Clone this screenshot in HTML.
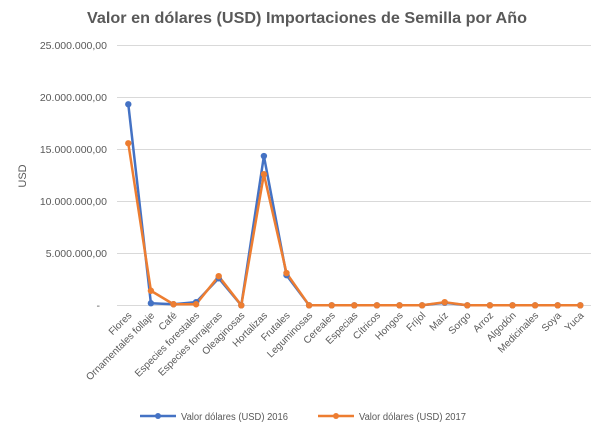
<!DOCTYPE html>
<html><head><meta charset="utf-8"><style>body{margin:0;background:#fff}svg{display:block;font-family:"Liberation Sans",sans-serif}</style></head><body>
<svg width="611" height="429" viewBox="0 0 611 429">
<rect width="611" height="429" fill="#fff"/>
<text x="307" y="23" text-anchor="middle" font-size="16" font-weight="bold" fill="#595959" textLength="440" lengthAdjust="spacingAndGlyphs">Valor en dólares (USD) Importaciones de Semilla por Año</text>
<g stroke="#d9d9d9" stroke-width="1">
<line x1="117" x2="591" y1="45.5" y2="45.5"/><line x1="117" x2="591" y1="97.5" y2="97.5"/><line x1="117" x2="591" y1="149.5" y2="149.5"/><line x1="117" x2="591" y1="201.5" y2="201.5"/><line x1="117" x2="591" y1="253.5" y2="253.5"/><line x1="117" x2="591" y1="305.5" y2="305.5"/>
</g>
<g font-size="10.5" fill="#595959" text-anchor="end">
<text x="107" y="49">25.000.000,00</text><text x="107" y="101">20.000.000,00</text><text x="107" y="153">15.000.000,00</text><text x="107" y="205">10.000.000,00</text><text x="107" y="257">5.000.000,00</text><text x="100" y="309">-</text>
</g>
<text transform="translate(26,176) rotate(-90)" text-anchor="middle" font-size="11" fill="#595959">USD</text>
<g font-size="10" fill="#595959" text-anchor="end" id="lbl"></g>
<polyline fill="none" stroke="#4472c4" stroke-width="2.5" stroke-linejoin="round" id="b"/>
<polyline fill="none" stroke="#ed7d31" stroke-width="2.5" stroke-linejoin="round" id="o"/>
<g id="bm" fill="#4472c4"></g><g id="om" fill="#ed7d31"></g>
<line x1="140" x2="176" y1="416" y2="416" stroke="#4472c4" stroke-width="2.5"/><circle cx="158" cy="416" r="3" fill="#4472c4"/>
<text x="181" y="420" font-size="10" fill="#595959" textLength="107" lengthAdjust="spacingAndGlyphs">Valor dólares (USD) 2016</text>
<line x1="318" x2="354" y1="416" y2="416" stroke="#ed7d31" stroke-width="2.5"/><circle cx="336" cy="416" r="3" fill="#ed7d31"/>
<text x="359" y="420" font-size="10" fill="#595959" textLength="107" lengthAdjust="spacingAndGlyphs">Valor dólares (USD) 2017</text>
<script>
var c=["Flores","Ornamentales follaje","Café","Especies forestales","Especies forrajeras","Oleaginosas","Hortalizas","Frutales","Leguminosas","Cereales","Especias","Cítricos","Hongos","Fríjol","Maíz","Sorgo","Arroz","Algodón","Medicinales","Soya","Yuca"];
var b=[19.33,0.2,0.1,0.3,2.6,0,14.35,2.9,0,0,0,0,0,0,0.25,0,0,0,0,0,0];
var o=[15.58,1.4,0.1,0.1,2.8,0,12.6,3.1,0,0,0,0,0,0,0.3,0,0,0,0,0,0];
var ns="http://www.w3.org/2000/svg",L=document.getElementById("lbl");
function X(i){return 128.3+i*22.6}function Y(v){return 305.3-v*10.4}
var pb=[],po=[];
c.forEach(function(n,i){var t=document.createElementNS(ns,"text");var x=X(i)+4,y=316;t.setAttribute("x",x);t.setAttribute("y",y);t.setAttribute("transform","rotate(-45 "+x+" "+y+")");t.textContent=n;L.appendChild(t);
pb.push(X(i)+","+Y(b[i]));po.push(X(i)+","+Y(o[i]));
[["bm",b],["om",o]].forEach(function(p){var k=document.createElementNS(ns,"circle");k.setAttribute("cx",X(i));k.setAttribute("cy",Y(p[1][i]));k.setAttribute("r",3.2);document.getElementById(p[0]).appendChild(k);});});
document.getElementById("b").setAttribute("points",pb.join(" "));document.getElementById("o").setAttribute("points",po.join(" "));
</script>
</svg>
</body></html>
